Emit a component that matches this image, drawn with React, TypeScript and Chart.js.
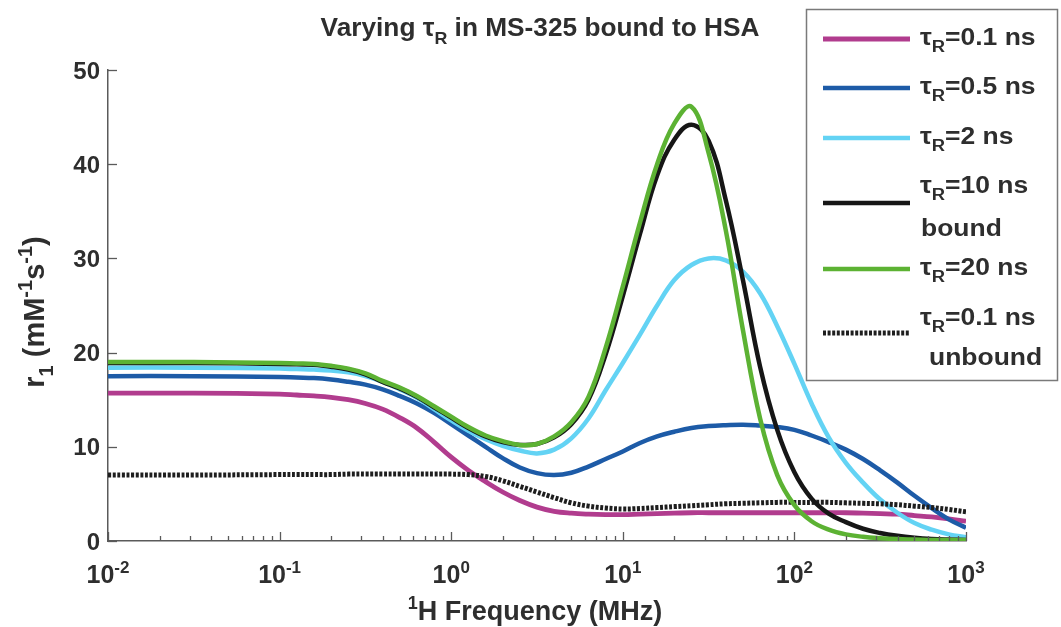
import React, { useEffect, useRef } from "react";
import { Chart, registerables } from "chart.js";

Chart.register(...registerables);

// 1H Larmor frequency (MHz), log-spaced samples
const freqMHz = [
  0.01, 0.0316, 0.1, 0.1259, 0.1585, 0.1995, 0.2512, 0.3162, 0.3981, 0.5012,
  0.631, 0.7943, 1, 1.259, 1.585, 1.995, 2.512, 3.162, 3.981, 5.012,
  6.31, 7.943, 10, 12.59, 15.85, 19.95, 25.12, 31.62, 39.81, 50.12,
  63.1, 79.43, 100, 125.9, 158.5, 199.5, 251.2, 316.2, 398.1, 501.2,
  631, 794.3, 1000,
];

const r1Tau01 = [
  15.7, 15.7, 15.6, 15.5, 15.4, 15.25, 15.0, 14.6, 14.0, 13.1,
  12.0, 10.5, 8.9, 7.5, 6.3, 5.2, 4.3, 3.6, 3.15, 2.95,
  2.85, 2.8, 2.8, 2.85, 2.9, 2.95, 3.0, 3.0, 3.0, 3.0,
  3.0, 3.0, 3.0, 3.0, 3.0, 3.0, 2.95, 2.9, 2.85, 2.7,
  2.55, 2.35, 2.1,
];
const r1Tau05 = [
  17.5, 17.5, 17.4, 17.35, 17.3, 17.15, 16.9, 16.6, 16.1, 15.4,
  14.6, 13.6, 12.4, 11.2, 10.0, 8.8, 7.8, 7.2, 7.0, 7.25,
  7.9, 8.7, 9.5, 10.4, 11.1, 11.6, 12.0, 12.2, 12.3, 12.35,
  12.25, 12.1, 11.8, 11.2, 10.5, 9.7, 8.7, 7.5, 6.2, 4.8,
  3.5, 2.3, 1.4,
];
const r1Tau2 = [
  18.4, 18.4, 18.3, 18.25, 18.2, 18.1, 17.9, 17.5, 16.9, 16.1,
  15.2, 14.0, 12.8, 11.7, 10.8, 10.1, 9.6, 9.3, 9.7, 10.9,
  13.0, 16.0, 18.9, 21.9, 25.0, 27.7, 29.3, 30.0, 29.8, 28.6,
  26.3, 22.8, 18.8, 14.6, 11.0, 8.3, 6.2, 4.4, 3.0, 1.9,
  1.2, 0.7, 0.4,
];
const r1Tau10 = [
  18.9, 18.9, 18.8, 18.75, 18.7, 18.5, 18.2, 17.7, 16.9, 16.2,
  15.3, 14.2, 13.1, 12.0, 11.1, 10.5, 10.2, 10.3, 11.0, 12.4,
  15.0, 19.8, 26.0, 32.6, 38.8, 42.6, 44.2, 42.5, 36.2, 27.7,
  18.5, 11.8, 7.3, 4.5, 2.9, 2.0, 1.3, 0.85, 0.55, 0.35,
  0.22, 0.15, 0.1,
];
const r1Tau20 = [
  19.0, 19.0, 18.9, 18.85, 18.8, 18.6, 18.3, 17.8, 17.0, 16.3,
  15.4, 14.3, 13.2, 12.1, 11.2, 10.6, 10.2, 10.3, 11.1, 12.6,
  15.3, 20.5, 27.0, 33.8, 40.0, 44.3, 46.1, 41.2, 33.0, 22.4,
  13.0, 7.0, 3.8, 2.1, 1.2, 0.7, 0.45, 0.3, 0.2, 0.15,
  0.1, 0.1, 0.1,
];
const r1Unbound01 = [
  7.0, 7.0, 7.05, 7.05, 7.05, 7.05, 7.1, 7.1, 7.1, 7.1,
  7.1, 7.1, 7.1, 7.05, 6.85, 6.4, 5.8, 5.2, 4.6, 4.05,
  3.7, 3.5, 3.4, 3.45, 3.55, 3.65, 3.75, 3.85, 3.95, 4.0,
  4.05, 4.1, 4.1, 4.1, 4.1, 4.05, 4.0, 3.95, 3.85, 3.7,
  3.55, 3.35, 3.1,
];

const yTickValues = [0, 10, 20, 30, 40, 50];
const xDecadeExponents = [-2, -1, 0, 1, 2, 3];

type Seg = { t: string; s?: "sub" | "sup" };

const titleSegs: Seg[] = [{ t: "Varying τ" }, { t: "R", s: "sub" }, { t: " in MS-325 bound to HSA" }];
const xTitleSegs: Seg[] = [{ t: "1", s: "sup" }, { t: "H Frequency (MHz)" }];
const yTitleSegs: Seg[] = [
  { t: "r" }, { t: "1", s: "sub" }, { t: " (mM" }, { t: "-1", s: "sup" }, { t: "s" }, { t: "-1", s: "sup" }, { t: ")" },
];

const seriesPlainLabels = ["τR=0.1 ns", "τR=0.5 ns", "τR=2 ns", "τR=10 ns bound", "τR=20 ns", "τR=0.1 ns unbound"];
const seriesLegend: Seg[][] = [
  [{ t: "τ" }, { t: "R", s: "sub" }, { t: "=0.1 ns" }],
  [{ t: "τ" }, { t: "R", s: "sub" }, { t: "=0.5 ns" }],
  [{ t: "τ" }, { t: "R", s: "sub" }, { t: "=2 ns" }],
  [{ t: "τ" }, { t: "R", s: "sub" }, { t: "=10 ns" }],
  [{ t: "τ" }, { t: "R", s: "sub" }, { t: "=20 ns" }],
  [{ t: "τ" }, { t: "R", s: "sub" }, { t: "=0.1 ns" }],
];
const seriesLegendSecond = ["", "", "", "bound", "", "unbound"];
const seriesColors = ["#b13c8e", "#1d5ba7", "#63d3f4", "#161616", "#5cb233", "#1e1e1e"];
const seriesWidths = [4.8, 4.5, 4.5, 4.5, 4.5, 5];
const seriesOrder = [5, 4, 3, 1, 0, 2];
const dotPattern = [3, 1.6];

const FONT = '"Liberation Sans", Arial, Helvetica, sans-serif';
const TEXT = "#2e2e2e";

function drawRich(
  ctx: CanvasRenderingContext2D,
  segs: Seg[],
  x: number,
  y: number,
  size: number,
  align: "left" | "center" | "right",
  sx = 1
) {
  const small = Math.round(size * 0.68);
  const fontOf = (s: Seg) => `bold ${s.s ? small : size}px ${FONT}`;
  let w = 0;
  for (const s of segs) {
    ctx.font = fontOf(s);
    w += ctx.measureText(s.t).width;
  }
  ctx.save();
  ctx.translate(x, y);
  ctx.scale(sx, 1);
  ctx.textBaseline = "alphabetic";
  ctx.textAlign = "left";
  let cx = align === "left" ? 0 : align === "center" ? -w / 2 : -w;
  for (const s of segs) {
    ctx.font = fontOf(s);
    const dy = s.s === "sub" ? size * 0.32 : s.s === "sup" ? -size * 0.42 : 0;
    ctx.fillText(s.t, cx, dy);
    cx += ctx.measureText(s.t).width;
  }
  ctx.restore();
}

export default function App() {
  const ref = useRef<HTMLCanvasElement>(null);

  useEffect(() => {
    const canvas = ref.current;
    if (!canvas) return;
    const series = [r1Tau01, r1Tau05, r1Tau2, r1Tau10, r1Tau20, r1Unbound01];
    const datasets = series.map((vals, i) => ({
      label: seriesPlainLabels[i],
      data: freqMHz.map((f, j) => ({ x: f, y: vals[j] })),
      borderColor: seriesColors[i],
      backgroundColor: seriesColors[i],
      borderWidth: seriesWidths[i],
      borderDash: i === 5 ? dotPattern : [],
      pointRadius: 0,
      tension: 0.4,
      order: seriesOrder[i],
      fill: false,
    }));

    const overlay = {
      id: "overlay",
      beforeDraw(chart: any) {
        const c = chart.ctx as CanvasRenderingContext2D;
        c.save();
        c.fillStyle = "#ffffff";
        c.fillRect(0, 0, chart.width, chart.height);
        c.restore();
      },
      afterDraw(chart: any) {
        const c = chart.ctx as CanvasRenderingContext2D;
        const xs = chart.scales.x;
        const ys = chart.scales.y;
        const area = chart.chartArea;
        c.save();
        c.strokeStyle = "#5a5a5a";
        c.lineWidth = 1.3;
        // y ticks (inward)
        for (const v of yTickValues) {
          const py = Math.round(ys.getPixelForValue(v)) + 0.5;
          c.beginPath();
          c.moveTo(area.left, py);
          c.lineTo(area.left + 9, py);
          c.stroke();
        }
        // x major and minor ticks (inward)
        for (const k of xDecadeExponents) {
          const base = Math.pow(10, k);
          const px = Math.round(xs.getPixelForValue(base)) + 0.5;
          c.beginPath();
          c.moveTo(px, area.bottom);
          c.lineTo(px, area.bottom - 9);
          c.stroke();
          if (k < 3) {
            for (let m = 2; m <= 9; m++) {
              const mx = Math.round(xs.getPixelForValue(base * m)) + 0.5;
              c.beginPath();
              c.moveTo(mx, area.bottom);
              c.lineTo(mx, area.bottom - 5);
              c.stroke();
            }
          }
        }
        c.fillStyle = TEXT;
        // y tick labels
        for (const v of yTickValues) {
          const py = ys.getPixelForValue(v);
          drawRich(c, [{ t: String(v) }], 100, py + 8.5, 24, "right");
        }
        // x tick labels
        for (const k of xDecadeExponents) {
          const px = xs.getPixelForValue(Math.pow(10, k));
          drawRich(c, [{ t: "10" }, { t: String(k), s: "sup" }], px, 583, 25, "center");
        }
        // axis titles
        drawRich(c, xTitleSegs, 535, 620, 27, "center");
        c.save();
        c.translate(44, 312);
        c.rotate(-Math.PI / 2);
        drawRich(c, yTitleSegs, 0, 0, 29, "center");
        c.restore();
        // chart title
        drawRich(c, titleSegs, 540, 36, 25, "center", 1.05);

        // legend
        const bx = 806, by = 9, bw = 251, bh = 371;
        c.fillStyle = "#ffffff";
        c.fillRect(bx, by, bw, bh);
        c.strokeStyle = "#7a7a7a";
        c.lineWidth = 1.5;
        c.strokeRect(bx + 0.5, by + 0.5, bw, bh);
        const lineY = [39, 88, 138, 203, 269, 333];
        const textY = [45, 94, 144, 193, 275, 325];
        const secondY = [0, 0, 0, 236, 0, 365];
        for (let i = 0; i < seriesLegend.length; i++) {
          c.save();
          c.strokeStyle = seriesColors[i];
          c.lineWidth = seriesWidths[i];
          c.setLineDash(i === 5 ? dotPattern : []);
          c.beginPath();
          c.moveTo(823, lineY[i]);
          c.lineTo(910, lineY[i]);
          c.stroke();
          c.restore();
          c.fillStyle = TEXT;
          drawRich(c, seriesLegend[i], 920, textY[i], 23, "left", 1.15);
          if (seriesLegendSecond[i]) {
            drawRich(c, [{ t: seriesLegendSecond[i] }], i === 5 ? 929 : 921, secondY[i], 23, "left", 1.15);
          }
        }
        c.restore();
      },
    };

    const chart = new Chart(canvas, {
      type: "line",
      data: { datasets: datasets as any },
      options: {
        animation: false,
        responsive: false,
        devicePixelRatio: 1,
        layout: { padding: { left: 108, right: 95, top: 70, bottom: 86 } },
        plugins: {
          legend: { display: false },
          title: { display: false },
          tooltip: { enabled: false },
        },
        scales: {
          x: {
            type: "logarithmic",
            min: 0.01,
            max: 1000,
            grid: { display: false },
            ticks: { display: false },
            border: { display: true, color: "#5a5a5a", width: 1.5 },
            afterFit: (s: any) => {
              s.height = 0;
            },
          },
          y: {
            type: "linear",
            min: 0,
            max: 50,
            grid: { display: false },
            ticks: { display: false, stepSize: 10 },
            border: { display: true, color: "#5a5a5a", width: 1.5 },
            afterFit: (s: any) => {
              s.width = 0;
            },
          },
        },
      } as any,
      plugins: [overlay],
    });
    return () => chart.destroy();
  }, []);

  return (
    <div style={{ position: "absolute", left: 0, top: 0, width: 1061, height: 627, background: "#fff" }}>
      <canvas ref={ref} width={1061} height={627} style={{ display: "block" }} />
    </div>
  );
}
